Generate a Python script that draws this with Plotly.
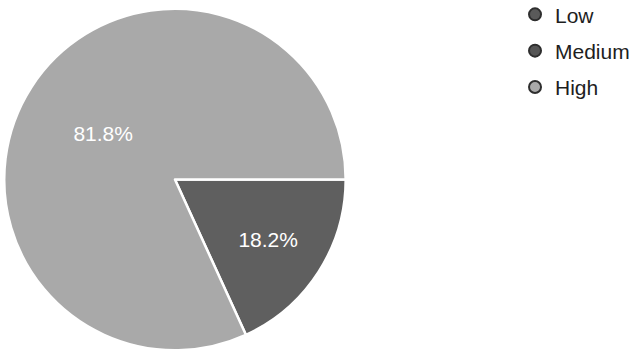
import plotly.graph_objects as go

categories = ["Low", "Medium", "High"]
values = [0, 2, 9]
colors = ["#5a5a5a", "#555555", "#a9a9a9"]

fig = go.Figure()
fig.add_trace(go.Pie(
    labels=categories,
    values=values,
    sort=False,
    direction="clockwise",
    rotation=90,
    marker=dict(colors=["#5a5a5a", "#5f5f5f", "#a9a9a9"], line=dict(color="white", width=2.5)),
    textinfo="percent",
    texttemplate="%{percent:.1%}",
    textposition="inside",
    insidetextorientation="horizontal",
    textfont=dict(color="white", size=21, family="Liberation Sans, Arial"),
    showlegend=False,
    domain=dict(x=[0.0063, 0.543], y=[0.005, 0.975]),
    hoverinfo="label+percent",
))

for name, col in zip(categories, colors):
    fig.add_trace(go.Scatter(
        x=[None], y=[None], mode="markers", name=name,
        legendgroup=name,
        marker=dict(symbol="circle", size=14, color=col,
                    line=dict(color="#2e2e2e", width=1.5)),
        showlegend=True,
    ))

fig.update_layout(
    width=637, height=352,
    margin=dict(l=0, r=0, t=0, b=0, autoexpand=False),
    paper_bgcolor="white",
    plot_bgcolor="white",
    xaxis=dict(visible=False),
    yaxis=dict(visible=False),
    legend=dict(x=0.8085, y=1.0165, xanchor="left", yanchor="top",
                font=dict(size=21, family="Liberation Sans, Arial", color="#1e1e1e"),
                itemsizing="constant", tracegroupgap=6),
    font=dict(family="Liberation Sans, Arial"),
)

fig.write_html("out.html", config={"displayModeBar": False},
               post_script="document.body.style.margin='0';")
